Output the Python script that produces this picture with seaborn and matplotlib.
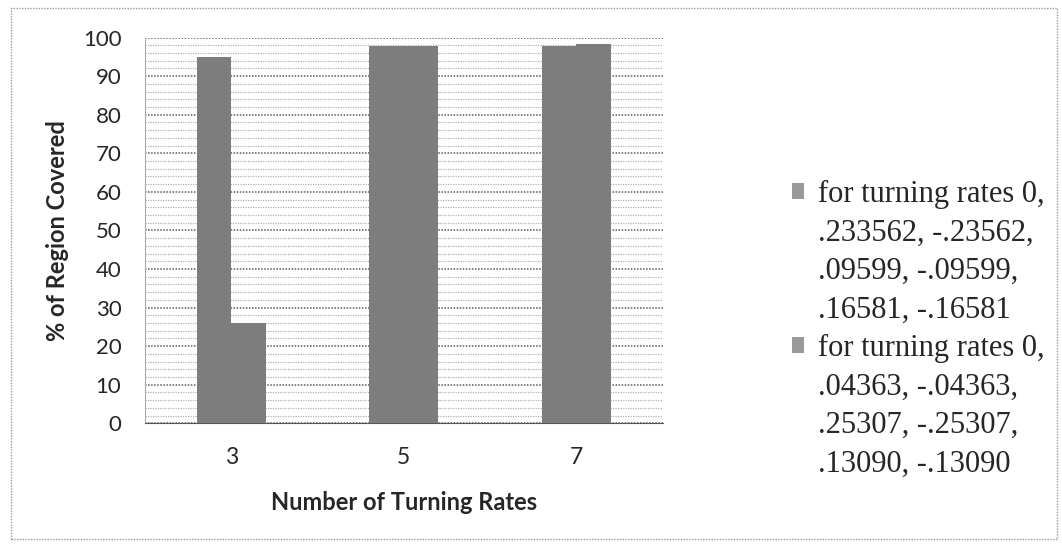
import matplotlib
matplotlib.use("Agg")
import matplotlib.pyplot as plt
from matplotlib.ticker import MultipleLocator
from matplotlib.patches import Rectangle, Patch
import seaborn as sns
import pandas as pd

categories = ["3", "5", "7"]
series_names = [
    "for turning rates 0,\n.233562, -.23562,\n.09599, -.09599,\n.16581, -.16581",
    "for turning rates 0,\n.04363, -.04363,\n.25307, -.25307,\n.13090, -.13090",
]
series1 = [95.0, 97.7, 97.7]
series2 = [26.0, 97.7, 98.4]
y_ticks = [0, 10, 20, 30, 40, 50, 60, 70, 80, 90, 100]

df = pd.DataFrame({
    "cat": categories * 2,
    "val": series1 + series2,
    "series": [series_names[0]] * 3 + [series_names[1]] * 3,
})

sns.set_style("white")
plt.rcParams["font.family"] = ["Lato", "DejaVu Sans"]

fig = plt.figure(figsize=(10.62, 5.44), dpi=100)
ax = fig.add_axes([0.1365, 0.222, 0.624 - 0.1365, 0.931 - 0.222])

bar_color = "#7d7d7d"
sns.barplot(data=df, x="cat", y="val", hue="series", order=categories,
            hue_order=series_names, palette=[bar_color, bar_color],
            width=0.4, gap=0, ax=ax, legend=False, zorder=3,
            edgecolor="none", linewidth=0)

ax.set_xlim(-0.5, 2.5)
ax.set_ylim(0, 100)
ax.set_yticks(y_ticks)
ax.yaxis.set_minor_locator(MultipleLocator(2))
ax.grid(axis="y", which="major", color="#5a5a5a", linestyle=(0, (1, 1)), linewidth=1.1, zorder=0)
ax.grid(axis="y", which="minor", color="#b0b0b0", linestyle=(0, (1, 1)), linewidth=0.9, zorder=0)
ax.set_axisbelow(True)

for s in ["top", "right"]:
    ax.spines[s].set_visible(False)
ax.spines["left"].set_color("#aaaaaa")
ax.spines["left"].set_linestyle((0, (1, 1)))
ax.spines["bottom"].set_color("#555555")
ax.spines["bottom"].set_linestyle((0, (1, 1)))

ax.tick_params(axis="y", which="major", length=6, color="#666666", labelsize=16, pad=11)
ax.tick_params(axis="y", which="minor", length=0)
ax.tick_params(axis="x", length=0, labelsize=16.5, pad=17)

ax.set_xlabel("Number of Turning Rates", fontsize=17, fontweight="bold", labelpad=17)
ax.set_ylabel("% of Region Covered", fontsize=17, fontweight="bold", labelpad=10)

# legend: one row per text line, marker only on the first line of each entry
leg_labels = []
leg_handles = []
for name in series_names:
    for i, line in enumerate(name.split("\n")):
        leg_labels.append(line)
        if i == 0:
            leg_handles.append(Patch(facecolor="#9a9a9a", edgecolor="none"))
        else:
            leg_handles.append(Patch(facecolor="none", edgecolor="none"))

leg = fig.legend(leg_handles, leg_labels, loc="upper left",
                 bbox_to_anchor=(792 / 1062, 1 - 180 / 544),
                 frameon=False, handlelength=0.4, handleheight=0.4, handletextpad=0.45,
                 labelspacing=0.31, borderpad=0, borderaxespad=0,
                 prop={"family": "Liberation Serif", "size": 22})

fig.patches.append(Rectangle((0.01, 0.01), 0.985, 0.975, transform=fig.transFigure,
                             fill=False, edgecolor="#999999", linestyle=(0, (1, 1)),
                             linewidth=1))

fig.savefig("out.png", dpi=100, facecolor="white")
